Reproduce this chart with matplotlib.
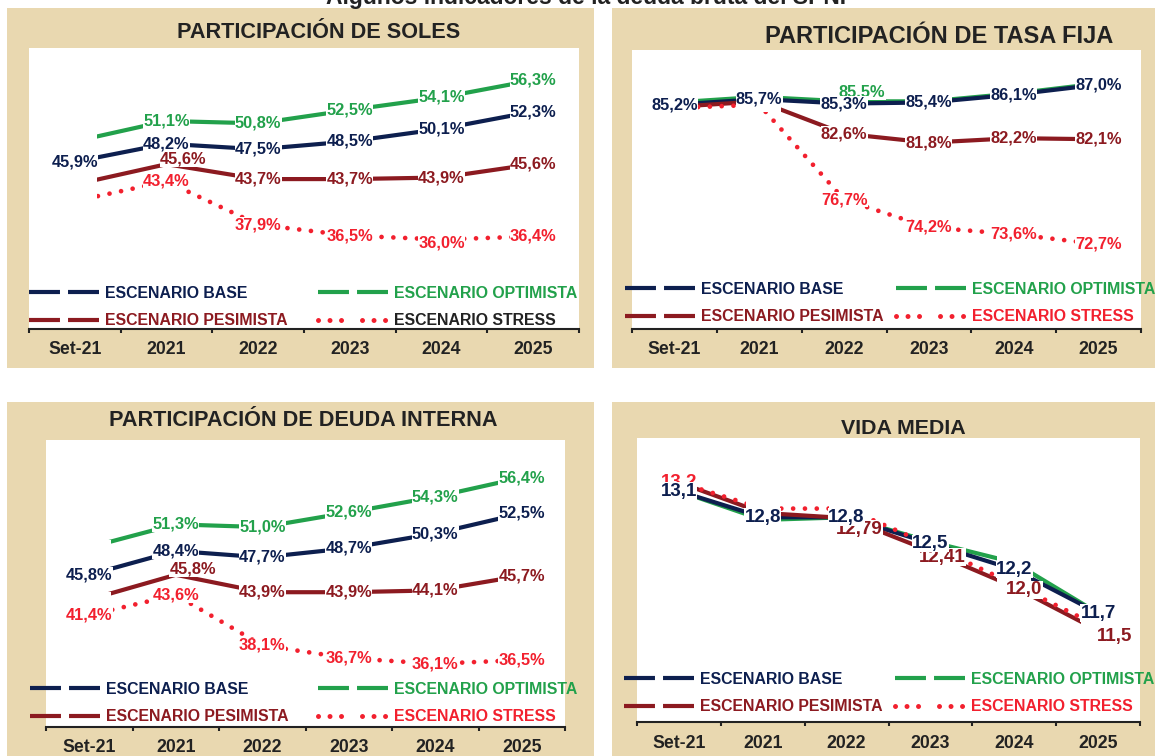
import matplotlib
matplotlib.use('Agg')
import matplotlib.pyplot as plt
from matplotlib.lines import Line2D
from matplotlib.patches import Rectangle

plt.rcParams['lines.scale_dashes'] = False
plt.rcParams['font.family'] = ['Liberation Sans', 'DejaVu Sans']

# ---------------- data ----------------
categories = ['Set-21', '2021', '2022', '2023', '2024', '2025']
series_names = ['ESCENARIO BASE', 'ESCENARIO OPTIMISTA', 'ESCENARIO PESIMISTA', 'ESCENARIO STRESS']

# Participación de soles (%)
soles_base = [45.9, 48.2, 47.5, 48.5, 50.1, 52.3]
soles_opt = [48.5, 51.1, 50.8, 52.5, 54.1, 56.3]
soles_pes = [43.0, 45.6, 43.7, 43.7, 43.9, 45.6]
soles_stress = [40.9, 43.4, 37.9, 36.5, 36.0, 36.4]
soles_show_base = [1, 1, 1, 1, 1, 1]
soles_show_opt = [0, 1, 1, 1, 1, 1]
soles_show_pes = [0, 1, 1, 1, 1, 1]
soles_show_stress = [0, 1, 1, 1, 1, 1]

# Participación de tasa fija (%)
fija_base = [85.2, 85.7, 85.3, 85.4, 86.1, 87.0]
fija_opt = [85.4, 85.9, 85.5, 85.5, 86.2, 87.1]
fija_pes = [85.0, 85.5, 82.6, 81.8, 82.2, 82.1]
fija_stress = [84.9, 85.2, 76.7, 74.2, 73.6, 72.7]
fija_show_base = [1, 1, 1, 1, 1, 1]
fija_show_opt = [0, 0, 1, 0, 0, 0]
fija_show_pes = [0, 0, 1, 1, 1, 1]
fija_show_stress = [0, 0, 1, 1, 1, 1]

# Participación de deuda interna (%)
interna_base = [45.8, 48.4, 47.7, 48.7, 50.3, 52.5]
interna_opt = [48.8, 51.3, 51.0, 52.6, 54.3, 56.4]
interna_pes = [43.1, 45.8, 43.9, 43.9, 44.1, 45.7]
interna_stress = [41.4, 43.6, 38.1, 36.7, 36.1, 36.5]
interna_show_base = [1, 1, 1, 1, 1, 1]
interna_show_opt = [0, 1, 1, 1, 1, 1]
interna_show_pes = [0, 1, 1, 1, 1, 1]
interna_show_stress = [1, 1, 1, 1, 1, 1]

# Vida media (años)
vida_base = [13.1, 12.8, 12.8, 12.5, 12.2, 11.7]
vida_opt = [13.1, 12.77, 12.8, 12.52, 12.28, 11.7]
vida_pes = [13.2, 12.85, 12.79, 12.41, 12.0, 11.5]
vida_stress = [13.2, 12.9, 12.9, 12.48, 12.03, 11.55]
vida_labels_base = ['13,1', '12,8', '12,8', '12,5', '12,2', '11,7']
vida_labels_opt = [None, None, None, None, None, None]
vida_labels_pes = [None, None, '12,79', '12,41', '12,0', '11,5']
vida_labels_stress = ['13,2', None, None, None, None, None]

# ---------------- style ----------------
W, H = 1155, 756
NAVY = '#0d1f4f'
GREEN = '#22a14b'
DRED = '#8c1a20'
RED = '#f2202e'
TXT = '#222222'
BEIGE = '#e9d8b0'
COLORS = [NAVY, GREEN, DRED, RED]
PX = 0.72  # points per pixel at dpi 100


def pct_labels(vals, show):
    return [(f"{v:.1f}".replace('.', ',') + '%') if s else None for v, s in zip(vals, show)]


def fmt(v, pct):
    return f"{v:.1f}".replace('.', ',') + ('%' if pct else '')


fig = plt.figure(figsize=(W / 100, H / 100), dpi=100, facecolor='white')


def fig_rect(x0, y0, x1, y1):
    return [x0 / W, 1 - y1 / H, (x1 - x0) / W, (y1 - y0) / H]


# beige panel backgrounds
for (x0, y0, x1, y1) in [(7, 8, 594, 368), (612, 8, 1155, 368), (7, 402, 594, 756), (612, 402, 1155, 756)]:
    r = fig_rect(x0, y0, x1, y1)
    fig.add_artist(Rectangle((r[0], r[1]), r[2], r[3], transform=fig.transFigure,
                             facecolor=BEIGE, edgecolor='none', zorder=-5))

fig.text(590 / W, 1 - 4 / H, 'Algunos indicadores de la deuda bruta del SPNF', ha='center',
         va='baseline', fontsize=16.5, fontweight='bold', color=TXT)

panels = [
    dict(title='PARTICIPACIÓN DE SOLES', tpos=(318.5, 38.5), tsize=15.6,
         rect=(29, 48, 579, 329), ylim=(24.6, 60.4), pct=True, lsize=11.8,
         vals=[soles_base, soles_opt, soles_pes, soles_stress],
         labels=[pct_labels(soles_base, soles_show_base), pct_labels(soles_opt, soles_show_opt),
                 pct_labels(soles_pes, soles_show_pes), pct_labels(soles_stress, soles_show_stress)],
         offsets={(2, 1): (17, -5), (3, 4): (0, 3)},
         leg=(29, 307), colsp=30, stress_txt=TXT),
    dict(title='PARTICIPACIÓN DE TASA FIJA', tpos=(939, 43.3), tsize=17,
         rect=(632, 50, 1141, 329), ylim=(65.1, 90.1), pct=True, lsize=11.8,
         vals=[fija_base, fija_opt, fija_pes, fija_stress],
         labels=[pct_labels(fija_base, fija_show_base), pct_labels(fija_opt, fija_show_opt),
                 pct_labels(fija_pes, fija_show_pes), pct_labels(fija_stress, fija_show_stress)],
         offsets={(1, 2): (18, -9)},
         leg=(625, 303), colsp=12, stress_txt=RED),
    dict(title='PARTICIPACIÓN DE DEUDA INTERNA', tpos=(303, 426), tsize=15.6,
         rect=(46, 440, 565, 727), ylim=(29.2, 60.5), pct=True, lsize=11.8,
         vals=[interna_base, interna_opt, interna_pes, interna_stress],
         labels=[pct_labels(interna_base, interna_show_base), pct_labels(interna_opt, interna_show_opt),
                 pct_labels(interna_pes, interna_show_pes), pct_labels(interna_stress, interna_show_stress)],
         offsets={(2, 1): (17, -6)},
         leg=(30, 703), colsp=29, stress_txt=RED),
    dict(title='VIDA MEDIA', tpos=(903, 434.3), tsize=15.4,
         rect=(637, 438, 1140, 722), ylim=(10.45, 13.71), pct=False, lsize=13.5,
         vals=[vida_base, vida_opt, vida_pes, vida_stress],
         labels=[vida_labels_base, vida_labels_opt, vida_labels_pes, vida_labels_stress],
         offsets={(2, 2): (13, 11), (2, 3): (12, 6), (2, 4): (10, 3), (2, 5): (16, 6)},
         leg=(624, 693), colsp=12, stress_txt=RED),
]

x = list(range(len(categories)))
line_z = [2.2, 2.1, 2.3, 2.4]
label_order = [1, 3, 2, 0]

for p in panels:
    ax = fig.add_axes(fig_rect(*p['rect']))
    ax.set_facecolor('white')
    ax.set_xlim(-0.5, len(categories) - 0.5)
    ax.set_ylim(*p['ylim'])
    for s in ['top', 'right', 'left']:
        ax.spines[s].set_visible(False)
    ax.spines['bottom'].set_color(TXT)
    ax.spines['bottom'].set_linewidth(1.5)
    ax.set_yticks([])
    ax.set_xticks([i - 0.5 for i in range(len(categories) + 1)])
    ax.set_xticklabels([])
    ax.tick_params(axis='x', which='major', length=3, width=1.5, color=TXT, direction='out')
    ax.set_xticks(x, minor=True)
    ax.set_xticklabels(categories, minor=True, fontsize=12.7, fontweight='bold', color=TXT)
    ax.tick_params(axis='x', which='minor', length=0, pad=9)

    # lines
    for k, vals in enumerate(p['vals']):
        if k == 3:
            ax.plot(x, vals, color=COLORS[k], lw=3.4, linestyle=(0, (0.01, 8.5)),
                    dash_capstyle='round', zorder=line_z[k], clip_on=False)
        else:
            ax.plot(x, vals, color=COLORS[k], lw=3.0, solid_capstyle='butt',
                    zorder=line_z[k], clip_on=False)

    # hidden white boxes for points without a visible label
    for k in label_order:
        for i, (v, lab) in enumerate(zip(p['vals'][k], p['labels'][k])):
            if lab is None:
                ax.annotate(fmt(v, p['pct']), (i, v), ha='center', va='center',
                            fontsize=p['lsize'] * 0.9, fontweight='bold', color='white',
                            bbox=dict(boxstyle='square,pad=0.05', fc='white', ec='none'),
                            zorder=3, annotation_clip=False)
    # visible labels
    for zi, k in enumerate(label_order):
        for i, (v, lab) in enumerate(zip(p['vals'][k], p['labels'][k])):
            if lab is not None:
                dx, dy = p['offsets'].get((k, i), (0, 0))
                ax.annotate(lab, (i, v), xytext=(dx * PX, -dy * PX), textcoords='offset points',
                            ha='center', va='center', fontsize=p['lsize'], fontweight='bold',
                            color=COLORS[k],
                            bbox=dict(boxstyle='square,pad=0.02', fc='white', ec='none'),
                            zorder=4 + zi, annotation_clip=False)

    # title
    fig.text(p['tpos'][0] / W, 1 - p['tpos'][1] / H, p['title'], ha='center', va='baseline',
             fontsize=p['tsize'], fontweight='bold', color=TXT)

    # legend
    dash = (0, (22.3, 5.8))
    dots = (0, (0.01, 8.28, 0.01, 8.28, 0.01, 15.1, 0.01, 8.28, 0.01, 8.28, 0.01, 40))
    handles = [
        Line2D([], [], color=NAVY, lw=3.0, linestyle=dash),
        Line2D([], [], color=DRED, lw=3.0, linestyle=dash),
        Line2D([], [], color=GREEN, lw=3.0, linestyle=dash),
        Line2D([], [], color=RED, lw=3.6, linestyle=dots, dash_capstyle='round'),
    ]
    names = [series_names[0], series_names[2], series_names[1], series_names[3]]
    tcolors = [NAVY, DRED, GREEN, p['stress_txt']]
    fs = 11.4
    leg = ax.legend(handles, names, ncol=2, loc='center left',
                    bbox_to_anchor=(p['leg'][0] / W, 1 - p['leg'][1] / H),
                    bbox_transform=fig.transFigure, frameon=False,
                    prop=dict(size=fs, weight='bold'), handlelength=50.4 / fs,
                    handletextpad=4.3 / fs, columnspacing=p['colsp'] * PX / fs,
                    labelspacing=0.82, borderpad=0, borderaxespad=0)
    for t, c in zip(leg.get_texts(), tcolors):
        t.set_color(c)
    leg.set_zorder(10)

fig.savefig('out.png', dpi=100, facecolor='white')
